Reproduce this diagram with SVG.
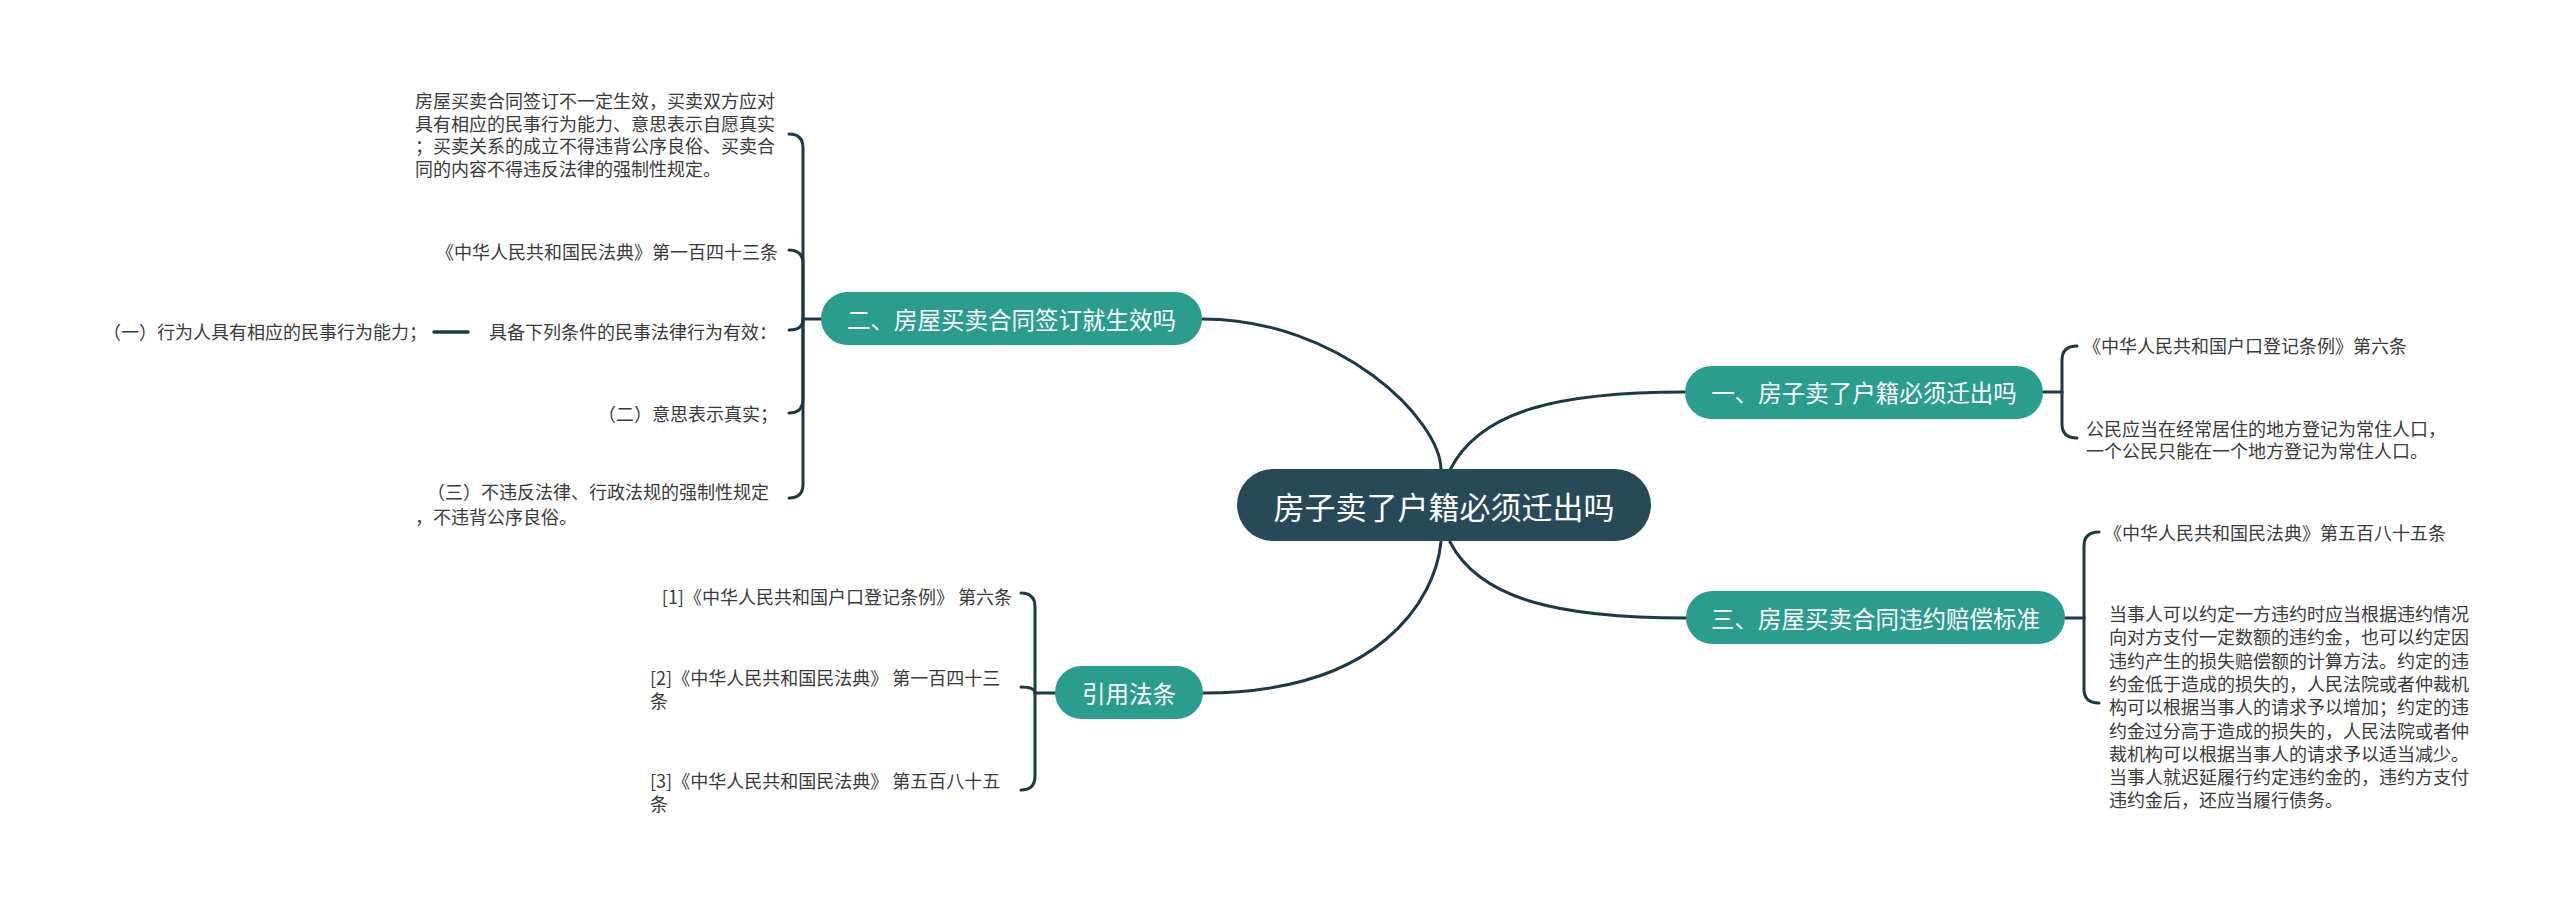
<svg xmlns="http://www.w3.org/2000/svg" width="2560" height="901" viewBox="0 0 2560 901">
<style>
.bg{fill:#ffffff}
.conn path{fill:none;stroke:#1d3946;stroke-width:3;stroke-linecap:round}
.root rect{fill:#284a58}
.main rect{fill:#2a9d8f}
.root text{fill:#ffffff;font-family:"Noto Sans CJK SC",sans-serif;font-size:31px;text-anchor:middle;dominant-baseline:central}
.main text{fill:#ffffff;font-family:"Noto Sans CJK SC",sans-serif;font-size:23.5px;text-anchor:middle;dominant-baseline:central}
.leaf text{fill:#3a3a3a;font-family:"Noto Sans CJK SC",sans-serif;font-size:18px;dominant-baseline:central}
.e{text-anchor:end}
.s{text-anchor:start}
</style>
<rect class="bg" x="0" y="0" width="2560" height="901"/>
<g id="connectors" class="conn">
<path d="M1441 470 C1441 420 1340 319 1202 319"/>
<path d="M1450 470 C1480 410 1560 392 1685 392"/>
<path d="M1441 542 C1435 600 1380 693 1203 693"/>
<path d="M1450 542 C1480 600 1560 618 1686 618"/>
<path d="M821 319 H803"/>
<path d="M803 319 V148 Q803 134 789 134"/>
<path d="M803 319 V264 Q803 250 789 250"/>
<path d="M803 319 Q803 330 789 330"/>
<path d="M803 319 V399 Q803 413 789 413"/>
<path d="M803 319 V484 Q803 498 789 498"/>
<path d="M434 332 H468" style="stroke-width:3.5"/>
<path d="M2043 392 H2062"/>
<path d="M2062 392 V360 Q2062 346 2077 346"/>
<path d="M2062 392 V424 Q2062 438 2077 438"/>
<path d="M2065 618 H2084"/>
<path d="M2084 618 V546 Q2084 532 2099 532"/>
<path d="M2084 618 V689 Q2084 703 2099 703"/>
<path d="M1055 693 H1035"/>
<path d="M1035 693 V607 Q1035 593 1021 593"/>
<path d="M1035 693 Q1035 687 1021 687"/>
<path d="M1035 693 V776 Q1035 790 1021 790"/>
</g>
<g id="root" class="root">
<rect x="1237" y="469" width="414" height="72" rx="36"/>
<text x="1444" y="505">房子卖了户籍必须迁出吗</text>
</g>
<g id="n1" class="main">
<rect x="1685" y="366" width="358" height="53" rx="26.5"/>
<text x="1864" y="392">一、房子卖了户籍必须迁出吗</text>
</g>
<g id="n2" class="main">
<rect x="821" y="292" width="381" height="53" rx="26.5"/>
<text x="1011.5" y="319">二、房屋买卖合同签订就生效吗</text>
</g>
<g id="n3" class="main">
<rect x="1686" y="591" width="379" height="53" rx="26.5"/>
<text x="1875.5" y="618">三、房屋买卖合同违约赔偿标准</text>
</g>
<g id="n4" class="main">
<rect x="1055" y="666" width="148" height="53" rx="26.5"/>
<text x="1129" y="693">引用法条</text>
</g>
<g id="n2-1" class="leaf">
<text class="s" x="415" y="100">房屋买卖合同签订不一定生效，买卖双方应对</text>
<text class="s" x="415" y="122.7">具有相应的民事行为能力、意思表示自愿真实</text>
<text class="s" x="415" y="145.3">；买卖关系的成立不得违背公序良俗、买卖合</text>
<text class="s" x="415" y="168">同的内容不得违反法律的强制性规定。</text>
</g>
<g id="n2-2" class="leaf">
<text class="e" x="778" y="251">《中华人民共和国民法典》第一百四十三条</text>
</g>
<g id="n2-3" class="leaf">
<text class="e" x="777" y="331">具备下列条件的民事法律行为有效：</text>
</g>
<g id="n2-3-1" class="leaf">
<text class="s" x="103" y="331">（一）行为人具有相应的民事行为能力；</text>
</g>
<g id="n2-4" class="leaf">
<text class="e" x="778" y="413">（二）意思表示真实；</text>
</g>
<g id="n2-5" class="leaf">
<text class="s" x="427" y="491">（三）不违反法律、行政法规的强制性规定</text>
<text class="s" x="415" y="516">，不违背公序良俗。</text>
</g>
<g id="n1-1" class="leaf">
<text class="s" x="2083" y="345">《中华人民共和国户口登记条例》第六条</text>
</g>
<g id="n1-2" class="leaf">
<text class="s" x="2086" y="428">公民应当在经常居住的地方登记为常住人口，</text>
<text class="s" x="2086" y="450">一个公民只能在一个地方登记为常住人口。</text>
</g>
<g id="n3-1" class="leaf">
<text class="s" x="2104" y="532">《中华人民共和国民法典》第五百八十五条</text>
</g>
<g id="n3-2" class="leaf">
<text class="s" x="2109" y="613">当事人可以约定一方违约时应当根据违约情况</text>
<text class="s" x="2109" y="636.3">向对方支付一定数额的违约金，也可以约定因</text>
<text class="s" x="2109" y="659.6">违约产生的损失赔偿额的计算方法。约定的违</text>
<text class="s" x="2109" y="682.9">约金低于造成的损失的，人民法院或者仲裁机</text>
<text class="s" x="2109" y="706.2">构可以根据当事人的请求予以增加；约定的违</text>
<text class="s" x="2109" y="729.5">约金过分高于造成的损失的，人民法院或者仲</text>
<text class="s" x="2109" y="752.8">裁机构可以根据当事人的请求予以适当减少。</text>
<text class="s" x="2109" y="776.1">当事人就迟延履行约定违约金的，违约方支付</text>
<text class="s" x="2109" y="799.4">违约金后，还应当履行债务。</text>
</g>
<g id="n4-1" class="leaf">
<text class="e" x="1012" y="596">[1]《中华人民共和国户口登记条例》 第六条</text>
</g>
<g id="n4-2" class="leaf">
<text class="s" x="650" y="677">[2]《中华人民共和国民法典》 第一百四十三</text>
<text class="s" x="650" y="700">条</text>
</g>
<g id="n4-3" class="leaf">
<text class="s" x="650" y="780">[3]《中华人民共和国民法典》 第五百八十五</text>
<text class="s" x="650" y="803">条</text>
</g>
</svg>
